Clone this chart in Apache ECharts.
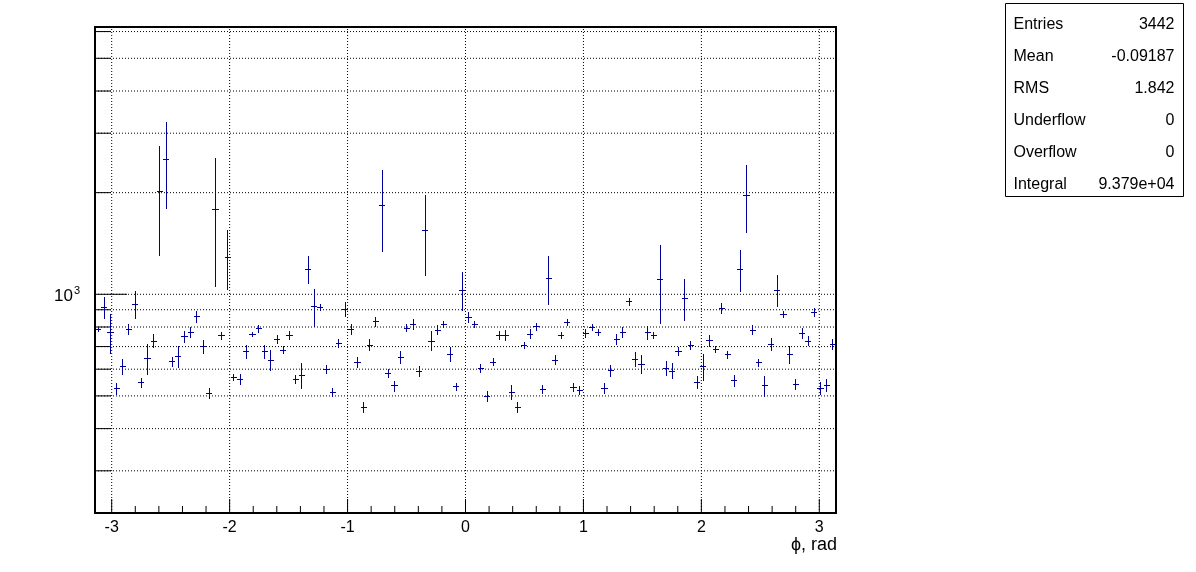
<!DOCTYPE html>
<html>
<head>
<meta charset="utf-8">
<script src="https://cdn.jsdelivr.net/npm/echarts@6/dist/echarts.min.js"></script>
<style>html,body{margin:0;padding:0;background:#fff}#c{width:1196px;height:572px}</style>
</head>
<body>
<div id="c"></div>
<script>
// ---- histogram definition ----
const nBins = 120;
const xMin = -Math.PI, xMax = Math.PI;
const yMin = 225, yMax = 6190;

// ---- bin contents ----
const counts = [
  787, 914, 770, 525, 610, 787, 935, 547, 646, 727,
  2021, 2509, 631, 653, 748, 770, 858, 699, 509, 1788,
  753, 1289, 567, 560, 676, 760, 790, 676, 638, 735,
  683, 755, 560, 575, 1185, 918, 914, 599, 511, 715,
  902, 787, 628, 462, 707, 829, 1834, 582, 535, 649,
  794, 814, 592, 1549, 727, 783, 814, 665, 532, 1029,
  854, 814, 603, 499, 630, 755, 755, 512, 462, 704,
  762, 801, 523, 1114, 638, 755, 827, 530, 519, 766,
  798, 772, 525, 593, 736, 770, 950, 641, 620, 770,
  755, 1107, 603, 592, 679, 972, 704, 548, 610, 728,
  686, 908, 663, 554, 1185, 1967, 783, 628, 535, 710,
  1027, 872, 663, 541, 766, 727, 882, 526, 537, 712
];
const errors = [
  15, 71, 103, 21, 33, 31, 88, 19, 68, 36,
  724, 722, 21, 50, 30, 30, 37, 34, 20, 740,
  19, 262, 15, 21, 32, 12, 21, 32, 47, 22,
  19, 24, 17, 50, 114, 116, 20, 20, 16, 20,
  45, 30, 25, 17, 28, 28, 502, 17, 20, 28,
  23, 32, 23, 420, 49, 26, 19, 34, 14, 136,
  32, 22, 20, 18, 18, 21, 27, 27, 18, 17,
  26, 23, 15, 187, 22, 20, 20, 16, 16, 24,
  18, 19, 20, 24, 28, 30, 27, 34, 40, 37,
  16, 288, 32, 32, 21, 137, 22, 24, 57, 29,
  16, 35, 18, 22, 170, 446, 26, 17, 37, 32,
  111, 21, 40, 20, 30, 25, 28, 22, 23, 26
];

// ---- axis ticks ----
const xMajorTicks = [-3, -2, -1, 0, 1, 2, 3];
const xMinorTicks = [];
for (let k = -15; k <= 15; k++) { if (k % 5 !== 0) xMinorTicks.push(k / 5); }
const yMajorTicks = [1000];
const yMinorTicks = [300, 400, 500, 600, 700, 800, 900, 2000, 3000, 4000, 5000, 6000];

// ---- stats box ----
const statsRows = [
  ['Entries', '3442'],
  ['Mean', '-0.09187'],
  ['RMS', '1.842'],
  ['Underflow', '0'],
  ['Overflow', '0'],
  ['Integral', '9.379e+04']
];
const axisTitle = '\u03d5, rad';

// ---- styles ----
const markColor = '#000099';
const font = "'Liberation Sans', Arial, Helvetica, sans-serif";
const binW = (xMax - xMin) / nBins;

const histData = counts.map((c, i) => [xMin + (i + 0.5) * binW, c, errors[i]]);

const chart = echarts.init(document.getElementById('c'), null, {renderer: 'canvas'});

const snap = p => Math.round(p - 0.5) + 0.5;

function gridLine(p1, p2) {
  return {type: 'line', shape: {x1: p1[0], y1: p1[1], x2: p2[0], y2: p2[1]},
    style: {stroke: '#000', lineWidth: 1, lineDash: [1, 2]}, silent: true};
}
function tickLine(p1, p2) {
  return {type: 'line', shape: {x1: p1[0], y1: p1[1], x2: p2[0], y2: p2[1]},
    style: {stroke: '#000', lineWidth: 1}, silent: true};
}

const option = {
  animation: false,
  backgroundColor: '#fff',
  grid: {left: 95, right: 360, top: 27, bottom: 59, show: true, borderColor: '#000', borderWidth: 2, backgroundColor: 'transparent', z: 10},
  xAxis: {
    type: 'value', min: xMin, max: xMax, splitNumber: 6,
    axisLine: {show: false}, axisTick: {show: false}, splitLine: {show: false},
    axisLabel: {
      color: '#000', fontSize: 16, fontFamily: font, margin: 7,
      formatter: v => (Math.abs(v - Math.round(v)) < 1e-9 ? String(Math.round(v)) : '')
    }
  },
  yAxis: {
    type: 'log', logBase: 10, min: yMin, max: yMax,
    axisLine: {show: false}, axisTick: {show: false}, splitLine: {show: false},
    axisLabel: {
      color: '#000', fontFamily: font, margin: 15,
      formatter: v => (Math.abs(Math.log10(v) - 3) < 1e-6 ? '{b|10}{s|3}' : ''),
      rich: {
        b: {fontSize: 17, fontFamily: font, color: '#000', padding: [5, 0, 0, 0]},
        s: {fontSize: 11, fontFamily: font, color: '#000', padding: [0, 0, 6, 1]}
      }
    }
  },
  series: [
    { // horizontal grid + y ticks
      type: 'custom', silent: true, z: 1,
      data: yMajorTicks.map(v => [xMin, v, 1]).concat(yMinorTicks.map(v => [xMin, v, 0])),
      renderItem: (params, api) => {
        const v = api.value(1);
        const p1 = api.coord([xMin, v]);
        const p2 = api.coord([xMax, v]);
        const len = api.value(2) ? 32 : 16;
        return {type: 'group', children: [
          gridLine(p1, p2),
          tickLine(p1, [p1[0] + len, p1[1]])
        ]};
      }
    },
    { // vertical grid + major x ticks
      type: 'custom', silent: true, z: 1,
      data: xMajorTicks.map(v => [v, 1000]),
      renderItem: (params, api) => {
        const x = api.value(0);
        const p1 = api.coord([x, yMin]);
        const p2 = api.coord([x, yMax]);
        return {type: 'group', children: [
          gridLine(p1, p2),
          tickLine(p1, [p1[0], p1[1] - 14])
        ]};
      }
    },
    { // minor x ticks
      type: 'custom', silent: true, z: 1,
      data: xMinorTicks.map(v => [v, 1000]),
      renderItem: (params, api) => {
        const p1 = api.coord([api.value(0), yMin]);
        return tickLine(p1, [p1[0], p1[1] - 7]);
      }
    },
    { // histogram with error bars
      type: 'custom', z: 5,
      data: histData,
      encode: {x: 0, y: 1},
      renderItem: (params, api) => {
        const x = api.value(0), v = api.value(1), e = api.value(2);
        const pL = api.coord([x - binW / 2, v]);
        const pR = api.coord([x + binW / 2, v]);
        const pT = api.coord([x, v + e]);
        const pB = api.coord([x, Math.max(v - e, 1e-3)]);
        const cx = snap(pT[0]);
        const cy = snap(pL[1]);
        const st = {stroke: markColor, lineWidth: 1};
        return {type: 'group', children: [
          {type: 'line', shape: {x1: Math.round(pL[0]), y1: cy, x2: Math.round(pR[0]), y2: cy}, style: st},
          {type: 'line', shape: {x1: cx, y1: Math.round(pT[1]), x2: cx, y2: Math.round(pB[1])}, style: st}
        ]};
      }
    }
  ],
  graphic: [
    {type: 'text', right: 1196 - 837, top: 536,
      style: {text: axisTitle, fontSize: 18, fontFamily: font, fill: '#000'}},
    {type: 'group', left: 1005, top: 3, children: [
      {type: 'rect', shape: {x: 0, y: 0, width: 178, height: 193},
        style: {fill: '#fff', stroke: '#000', lineWidth: 1}},
      ...statsRows.flatMap((r, i) => [
        {type: 'text', x: 8, y: 21 + i * 32,
          style: {text: r[0], fontSize: 16, fontFamily: font, fill: '#000', verticalAlign: 'middle', align: 'left'}},
        {type: 'text', x: 169, y: 21 + i * 32,
          style: {text: r[1], fontSize: 16, fontFamily: font, fill: '#000', verticalAlign: 'middle', align: 'right'}}
      ])
    ]}
  ]
};
chart.setOption(option);
</script>
</body>
</html>
